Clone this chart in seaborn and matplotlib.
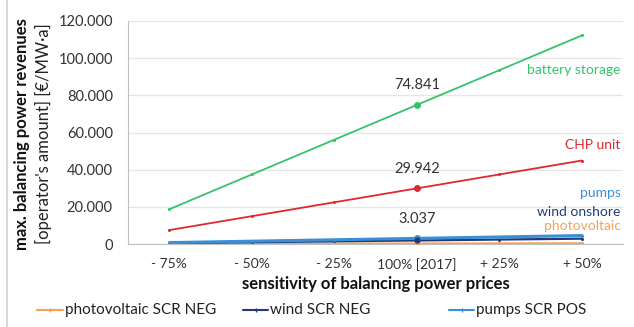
import pandas as pd
import numpy as np
import matplotlib.pyplot as plt
import seaborn as sns
from matplotlib.lines import Line2D
from matplotlib.ticker import FuncFormatter

# Data
categories = ["- 75%", "- 50%", "- 25%", "100% [2017]", "+ 25%", "+ 50%"]
battery_storage = [18710, 37420, 56131, 74841, 93551, 112262]
chp_unit = [7486, 14971, 22457, 29942, 37428, 44913]
pumps = [759, 1519, 2278, 3037, 3796, 4556]
wind_onshore = [480, 960, 1440, 1920, 2400, 2880]
photovoltaic = [60, 120, 180, 240, 300, 360]
y_ticks = [0, 20000, 40000, 60000, 80000, 100000, 120000]
legend_labels = ["photovoltaic SCR NEG", "wind SCR NEG", "pumps SCR POS"]

series = {
    "battery storage": battery_storage,
    "CHP unit": chp_unit,
    "photovoltaic": photovoltaic,
    "wind onshore": wind_onshore,
    "pumps": pumps,
}
colors = {
    "battery storage": "#35c46a",
    "CHP unit": "#e0282e",
    "pumps": "#3b8fd8",
    "wind onshore": "#1f3c78",
    "photovoltaic": "#f7a15a",
}
widths = {"battery storage": 1.3, "CHP unit": 1.3, "pumps": 2.2,
          "wind onshore": 1.6, "photovoltaic": 1.6}

df = pd.concat(
    [pd.DataFrame({"sensitivity": categories, "value": v, "series": k})
     for k, v in series.items()],
    ignore_index=True,
)
df["x"] = df.groupby("series").cumcount()

sns.set_style("white")
plt.rcParams["font.family"] = ["Lato", "DejaVu Sans"]

fig = plt.figure(figsize=(6.34, 3.27), dpi=100)
ax = fig.add_axes([0.202, 0.2538, 0.781, 0.682])

for name in series:
    sub = df[df["series"] == name]
    sns.lineplot(data=sub, x="x", y="value", ax=ax, color=colors[name],
                 linewidth=widths[name], marker="o", markersize=2.2,
                 markeredgewidth=0, legend=False, sort=False)

# highlighted 2017 points with labels
label_pos = {"battery storage": battery_storage[3], "CHP unit": chp_unit[3], "pumps": pumps[3]}
for name, val in label_pos.items():
    ax.plot(3, val, "o", color=colors[name], markersize=4, zorder=5)
    ax.annotate(f"{val/1000:.3f}", (3, val), xytext=(0, 9), textcoords="offset points",
                ha="center", va="bottom", fontsize=10.5, color="#333333")
ax.plot(3, wind_onshore[3], "o", color=colors["wind onshore"], markersize=3.5, zorder=5)
ax.plot(3, photovoltaic[3], "o", color=colors["photovoltaic"], markersize=3, zorder=4)

# series labels on the right
right_labels = [("battery storage", 93600), ("CHP unit", 53300),
                ("pumps", 27400), ("wind onshore", 17200), ("photovoltaic", 9700)]
for name, yv in right_labels:
    ax.text(5.47, yv, name, ha="right", va="center", fontsize=10,
            color=colors[name])

ax.set_xlim(-0.5, 5.5)
ax.set_ylim(0, 120000)
ax.set_yticks(y_ticks)
ax.yaxis.set_major_formatter(FuncFormatter(lambda v, p: "0" if v == 0 else f"{v/1000:.3f}"))
ax.set_xticks(range(len(categories)))
ax.set_xticklabels(categories)
ax.set_xticks(np.arange(-0.5, 6, 1), minor=True)
ax.tick_params(axis="x", which="major", length=0, pad=10, labelsize=10, labelcolor="#333333")
ax.tick_params(axis="x", which="minor", length=5, color="#bfbfbf", width=1)
ax.tick_params(axis="y", length=5, color="#bfbfbf", labelsize=10.5, labelcolor="#333333", pad=6)

ax.grid(axis="y", color="#e6e6e6", linewidth=1)
ax.set_axisbelow(True)
for s in ["top", "right"]:
    ax.spines[s].set_visible(False)
ax.spines["left"].set_color("#bfbfbf")
ax.spines["bottom"].set_color("#bfbfbf")

ax.set_xlabel("sensitivity of balancing power prices", fontsize=12, fontweight="bold",
              color="#111111", labelpad=4)
ax.set_ylabel("")
fig.text(0.035, 0.59, "max. balancing power revenues", rotation=90, ha="center",
         va="center", fontsize=12, fontweight="bold", color="#111111")
fig.text(0.069, 0.59, "[operator's amount] [€/MW·a]", rotation=90, ha="center",
         va="center", fontsize=12, color="#222222")

# legend entries placed like the original (uneven spacing)
legend_colors = [colors["photovoltaic"], colors["wind onshore"], colors["pumps"]]
handle_x = [(37, 63), (243, 268), (449, 474)]
W, H = 634, 327
ly = 1 - 310 / H
for lab, col, (x0, x1) in zip(legend_labels, legend_colors, handle_x):
    fig.add_artist(Line2D([x0 / W, x1 / W], [ly, ly], color=col, linewidth=1.5))
    fig.add_artist(Line2D([(x0 + x1) / 2 / W], [ly], color=col, marker="|",
                          markersize=3, linewidth=0))
    fig.text((x1 + 2) / W, ly, lab, ha="left", va="center", fontsize=11, color="#222222")

# chart border on the left
fig.add_artist(Line2D([0.011, 0.011], [0.0, 1.0], color="#d0d0d0", linewidth=1.2))

fig.savefig("out.png", dpi=100)
